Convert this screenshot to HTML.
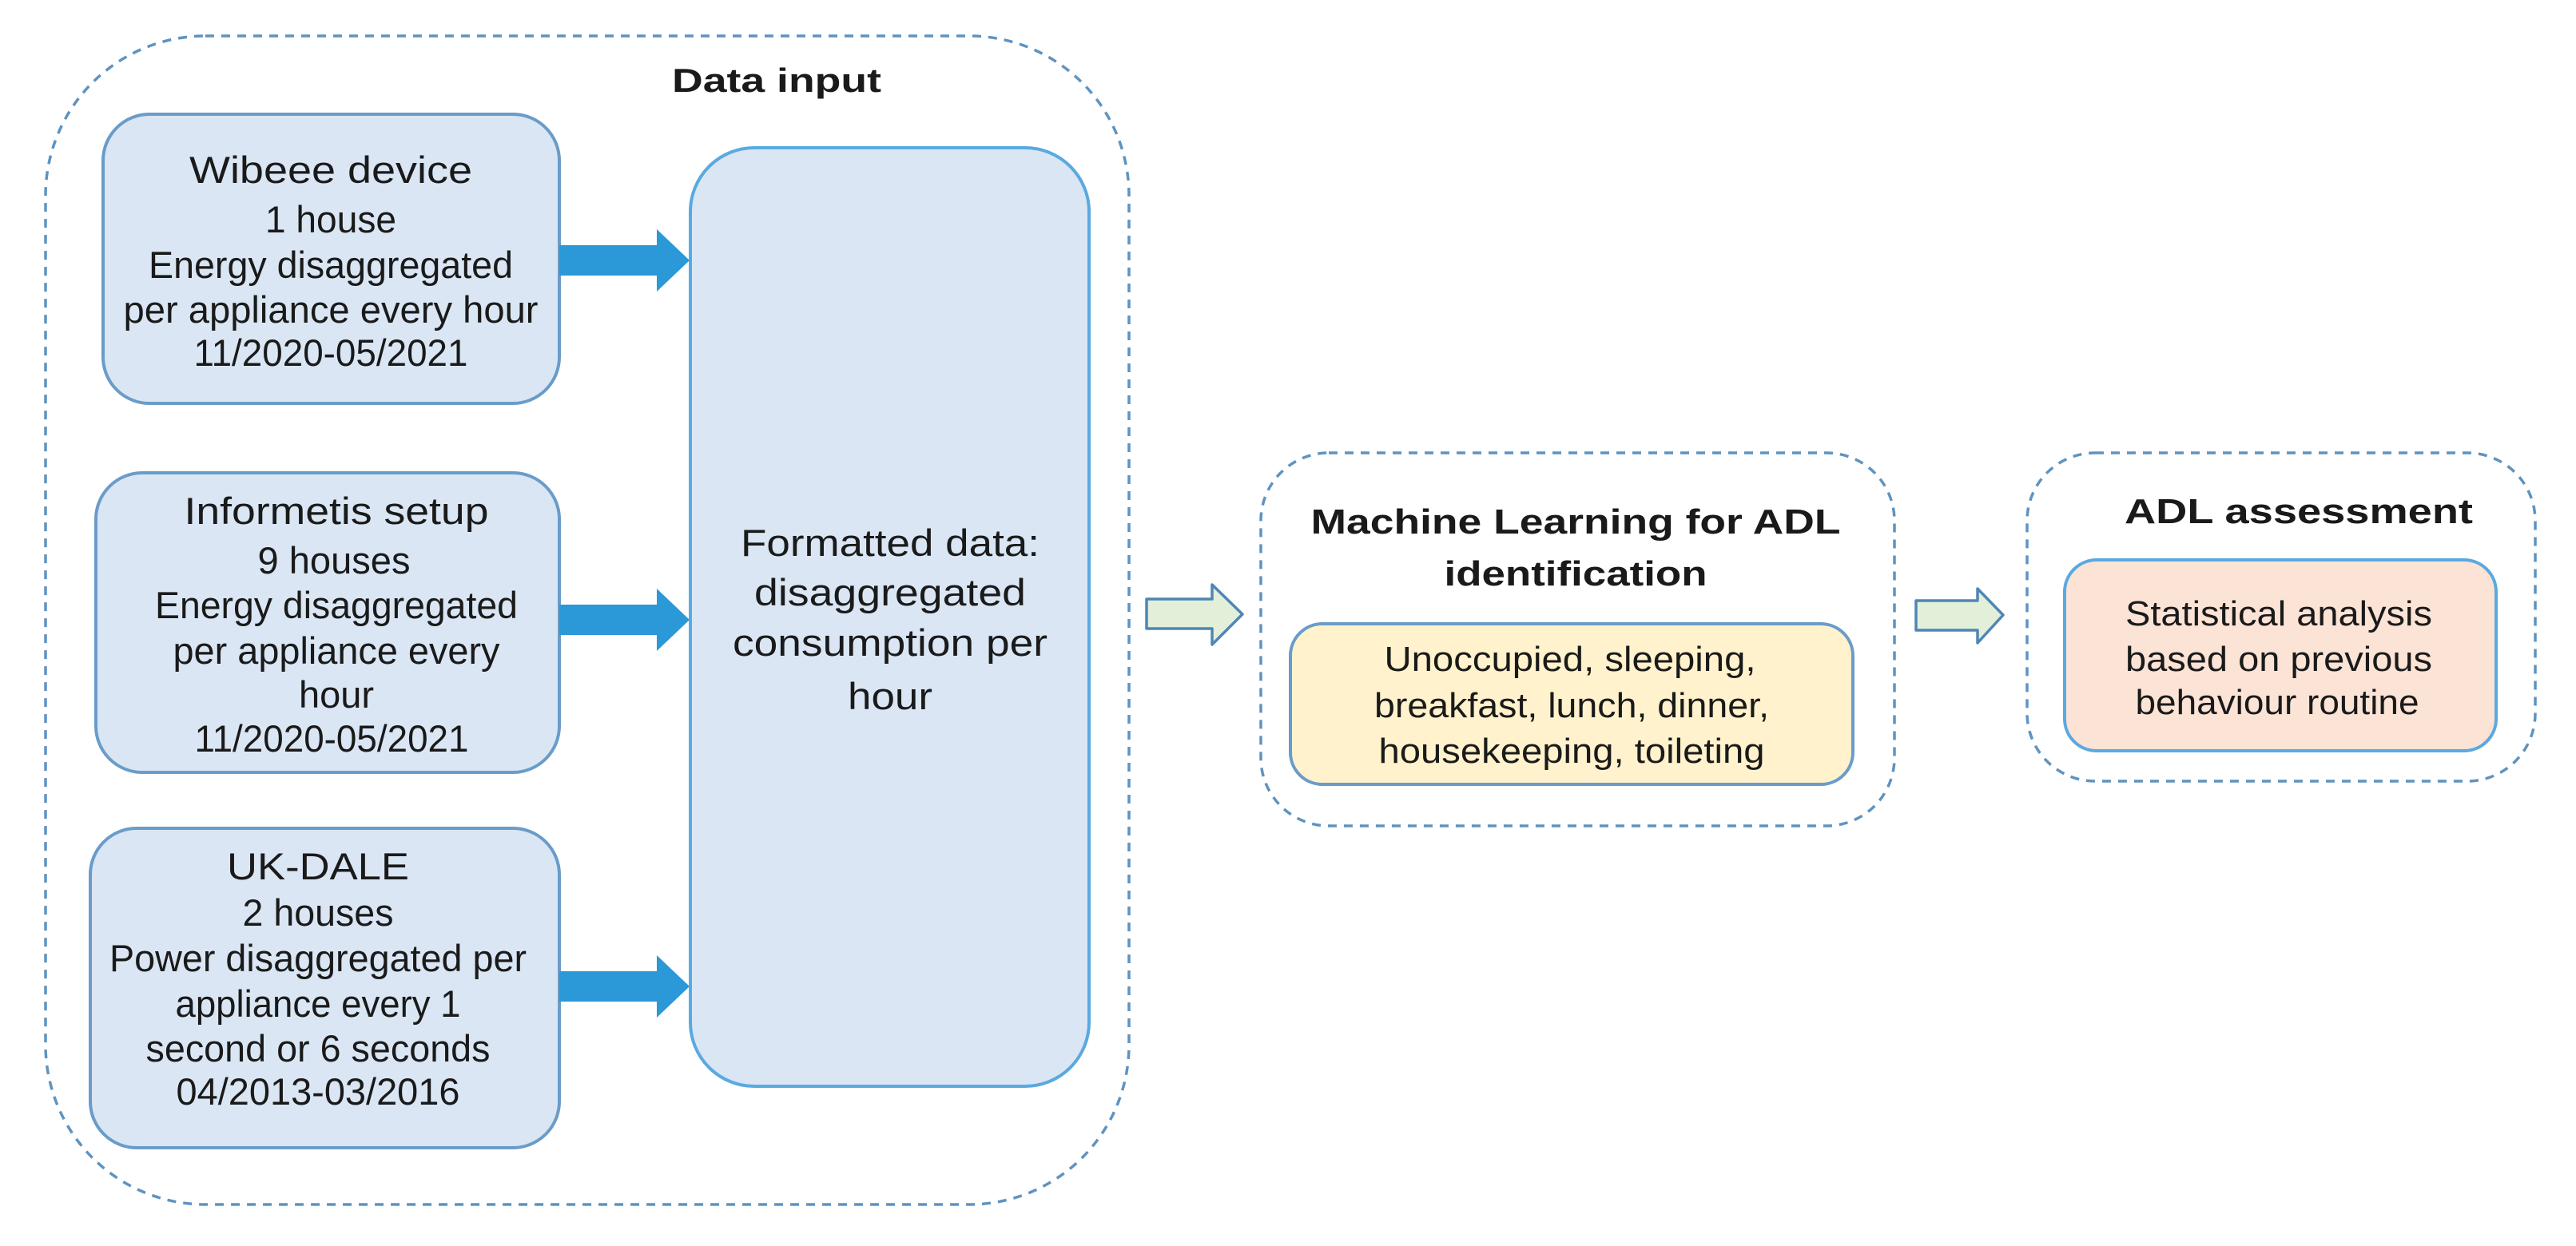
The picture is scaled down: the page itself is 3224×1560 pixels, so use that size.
<!DOCTYPE html>
<html><head><meta charset="utf-8"><style>
html,body{margin:0;padding:0;background:#fff;}
svg{display:block;}
text{font-family:"Liberation Sans",Arial,sans-serif;fill:#1a1a1a;}
</style></head><body>
<svg width="3224" height="1560" viewBox="0 0 3224 1560" xmlns="http://www.w3.org/2000/svg">
<rect x="57" y="45" width="1356" height="1463" rx="200" fill="none" stroke="#5f93c0" stroke-width="3.5" stroke-dasharray="11 9"/>
<text x="972" y="115" font-size="42" font-weight="bold" text-anchor="middle" textLength="262" lengthAdjust="spacingAndGlyphs">Data input</text>

<rect x="129" y="143" width="571" height="362" rx="58" fill="#dae6f4" stroke="#6a9cc9" stroke-width="4"/>
<g font-size="47" text-anchor="middle" lengthAdjust="spacingAndGlyphs">
<text x="414" y="229" textLength="354" lengthAdjust="spacingAndGlyphs">Wibeee device</text>
<text x="414" y="291" textLength="164" lengthAdjust="spacingAndGlyphs">1 house</text>
<text x="414" y="348" textLength="456" lengthAdjust="spacingAndGlyphs">Energy disaggregated</text>
<text x="414" y="404" textLength="519" lengthAdjust="spacingAndGlyphs">per appliance every hour</text>
<text x="414" y="458" textLength="343" lengthAdjust="spacingAndGlyphs">11/2020-05/2021</text>
</g>
<rect x="120" y="592" width="580" height="375" rx="58" fill="#dae6f4" stroke="#6a9cc9" stroke-width="4"/>
<g font-size="47" text-anchor="middle">
<text x="421" y="656" textLength="381" lengthAdjust="spacingAndGlyphs">Informetis setup</text>
<text x="418" y="718" textLength="191" lengthAdjust="spacingAndGlyphs">9 houses</text>
<text x="421" y="774" textLength="454" lengthAdjust="spacingAndGlyphs">Energy disaggregated</text>
<text x="421" y="831" textLength="409" lengthAdjust="spacingAndGlyphs">per appliance every</text>
<text x="421" y="886">hour</text>
<text x="415" y="941" textLength="343" lengthAdjust="spacingAndGlyphs">11/2020-05/2021</text>
</g>
<rect x="113" y="1037" width="587" height="400" rx="58" fill="#dae6f4" stroke="#6a9cc9" stroke-width="4"/>
<g font-size="47" text-anchor="middle">
<text x="398" y="1101" textLength="228" lengthAdjust="spacingAndGlyphs">UK-DALE</text>
<text x="398" y="1159" textLength="189" lengthAdjust="spacingAndGlyphs">2 houses</text>
<text x="398" y="1216" textLength="522" lengthAdjust="spacingAndGlyphs">Power disaggregated per</text>
<text x="398" y="1273" textLength="357" lengthAdjust="spacingAndGlyphs">appliance every 1</text>
<text x="398" y="1329" textLength="431" lengthAdjust="spacingAndGlyphs">second or 6 seconds</text>
<text x="398" y="1383" textLength="355" lengthAdjust="spacingAndGlyphs">04/2013-03/2016</text>
</g>
<rect x="864" y="185" width="499" height="1175" rx="80" fill="#dae6f4" stroke="#5aa9e0" stroke-width="4"/>
<g font-size="47" text-anchor="middle">
<text x="1114" y="696" textLength="374" lengthAdjust="spacingAndGlyphs">Formatted data:</text>
<text x="1114" y="758" textLength="340" lengthAdjust="spacingAndGlyphs">disaggregated</text>
<text x="1114" y="821" textLength="394" lengthAdjust="spacingAndGlyphs">consumption per</text>
<text x="1114" y="888" textLength="106" lengthAdjust="spacingAndGlyphs">hour</text>
</g>
<g fill="#2b98d7">
<polygon points="700,307 822,307 822,287 863,326 822,365 822,345 700,345"/>
<polygon points="700,757 822,757 822,737 863,776 822,815 822,795 700,795"/>
<polygon points="700,1216 822,1216 822,1196 863,1235 822,1274 822,1254 700,1254"/>
</g>
<g fill="#e2f0d9" stroke="#4f86b5" stroke-width="3.5" stroke-linejoin="round">
<polygon points="1435,750 1517,750 1517,732 1555,769 1517,807 1517,787 1435,787"/>
<polygon points="2398,752 2475,752 2475,737 2507,770 2475,805 2475,789 2398,789"/>
</g>
<rect x="1578" y="567" width="793" height="467" rx="85" fill="none" stroke="#5f93c0" stroke-width="3.5" stroke-dasharray="11 9"/>
<g font-size="44" font-weight="bold" text-anchor="middle">
<text x="1972" y="668" textLength="663" lengthAdjust="spacingAndGlyphs">Machine Learning for ADL</text>
<text x="1972" y="733" textLength="329" lengthAdjust="spacingAndGlyphs">identification</text>
</g>
<rect x="1615" y="781" width="704" height="201" rx="40" fill="#fff2cc" stroke="#6a9cc9" stroke-width="4"/>
<g font-size="44" text-anchor="middle">
<text x="1965" y="840" textLength="465" lengthAdjust="spacingAndGlyphs">Unoccupied, sleeping,</text>
<text x="1967" y="898" textLength="494" lengthAdjust="spacingAndGlyphs">breakfast, lunch, dinner,</text>
<text x="1967" y="955" textLength="483" lengthAdjust="spacingAndGlyphs">housekeeping, toileting</text>
</g>
<rect x="2537" y="567" width="636" height="411" rx="85" fill="none" stroke="#5f93c0" stroke-width="3.5" stroke-dasharray="11 9"/>
<text x="2877" y="655" font-size="44" font-weight="bold" text-anchor="middle" textLength="436" lengthAdjust="spacingAndGlyphs">ADL assessment</text>
<rect x="2584" y="701" width="540" height="239" rx="40" fill="#fbe3d6" stroke="#5aa9e0" stroke-width="4"/>
<g font-size="44" text-anchor="middle">
<text x="2852" y="783" textLength="384" lengthAdjust="spacingAndGlyphs">Statistical analysis</text>
<text x="2852" y="840" textLength="384" lengthAdjust="spacingAndGlyphs">based on previous</text>
<text x="2850" y="894" textLength="355" lengthAdjust="spacingAndGlyphs">behaviour routine</text>
</g>
</svg>
</body></html>
